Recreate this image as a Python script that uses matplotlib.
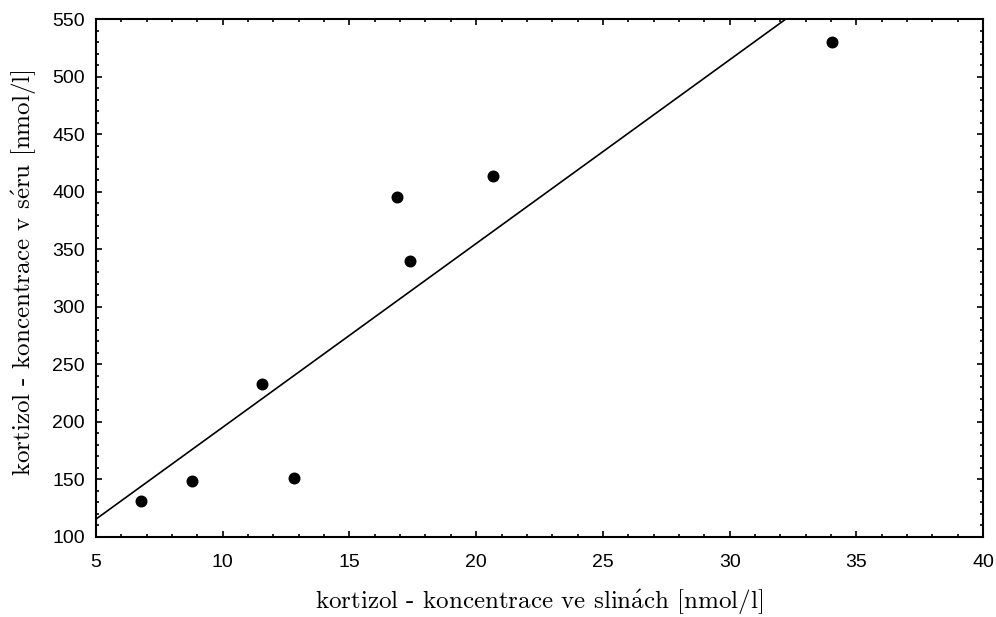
import numpy as np
import matplotlib.pyplot as plt
from matplotlib.ticker import MultipleLocator

plt.rcParams['mathtext.fontset'] = 'cm'

# kortizol: sliny vs. serum
sliny = [6.76, 8.80, 11.56, 12.83, 16.87, 17.39, 20.65, 34.03]
serum = [131, 149, 233, 151, 395, 340, 414, 530]

# popisky os (akcenty pres mathtext, cmr10 nema e/a s carkou)
xlabel = r'kortizol - koncentrace ve slin$\mathrm{\acute{a}}$ch [nmol/l]'
ylabel = r'kortizol - koncentrace v s$\mathrm{\acute{e}}$ru [nmol/l]'

fig = plt.figure(figsize=(9.96, 6.17), dpi=100)
ax = fig.add_axes([0.0964, 0.1297, 0.8906, 0.8395])

# linearni regrese
k, q = np.polyfit(sliny, serum, 1)
xx = np.array([5, 40])
ax.plot(xx, k * xx + q, color='black', lw=1.2)

ax.scatter(sliny, serum, s=58, color='black', zorder=3)

ax.set_xlim(5, 40)
ax.set_ylim(100, 550)
ax.xaxis.set_major_locator(MultipleLocator(5))
ax.xaxis.set_minor_locator(MultipleLocator(1))
ax.yaxis.set_major_locator(MultipleLocator(50))
ax.yaxis.set_minor_locator(MultipleLocator(10))

ax.tick_params(which='both', direction='in', top=True, right=True, width=1.2)
ax.tick_params(which='major', length=4.5)
ax.tick_params(which='minor', length=2.5)
ax.tick_params(axis='x', which='major', pad=12)
ax.tick_params(axis='y', which='major', pad=8)
for lab in ax.get_xticklabels() + ax.get_yticklabels():
    lab.set_family('Liberation Sans')
    lab.set_fontsize(14)
for s in ax.spines.values():
    s.set_linewidth(1.5)

lblfont = dict(family='cmr10', fontsize=18)
ax.set_xlabel(xlabel, labelpad=12, **lblfont)
ax.set_ylabel(ylabel, labelpad=10, **lblfont)
ax.yaxis.label.set_y(0.51)

fig.savefig('out.png', dpi=100)
